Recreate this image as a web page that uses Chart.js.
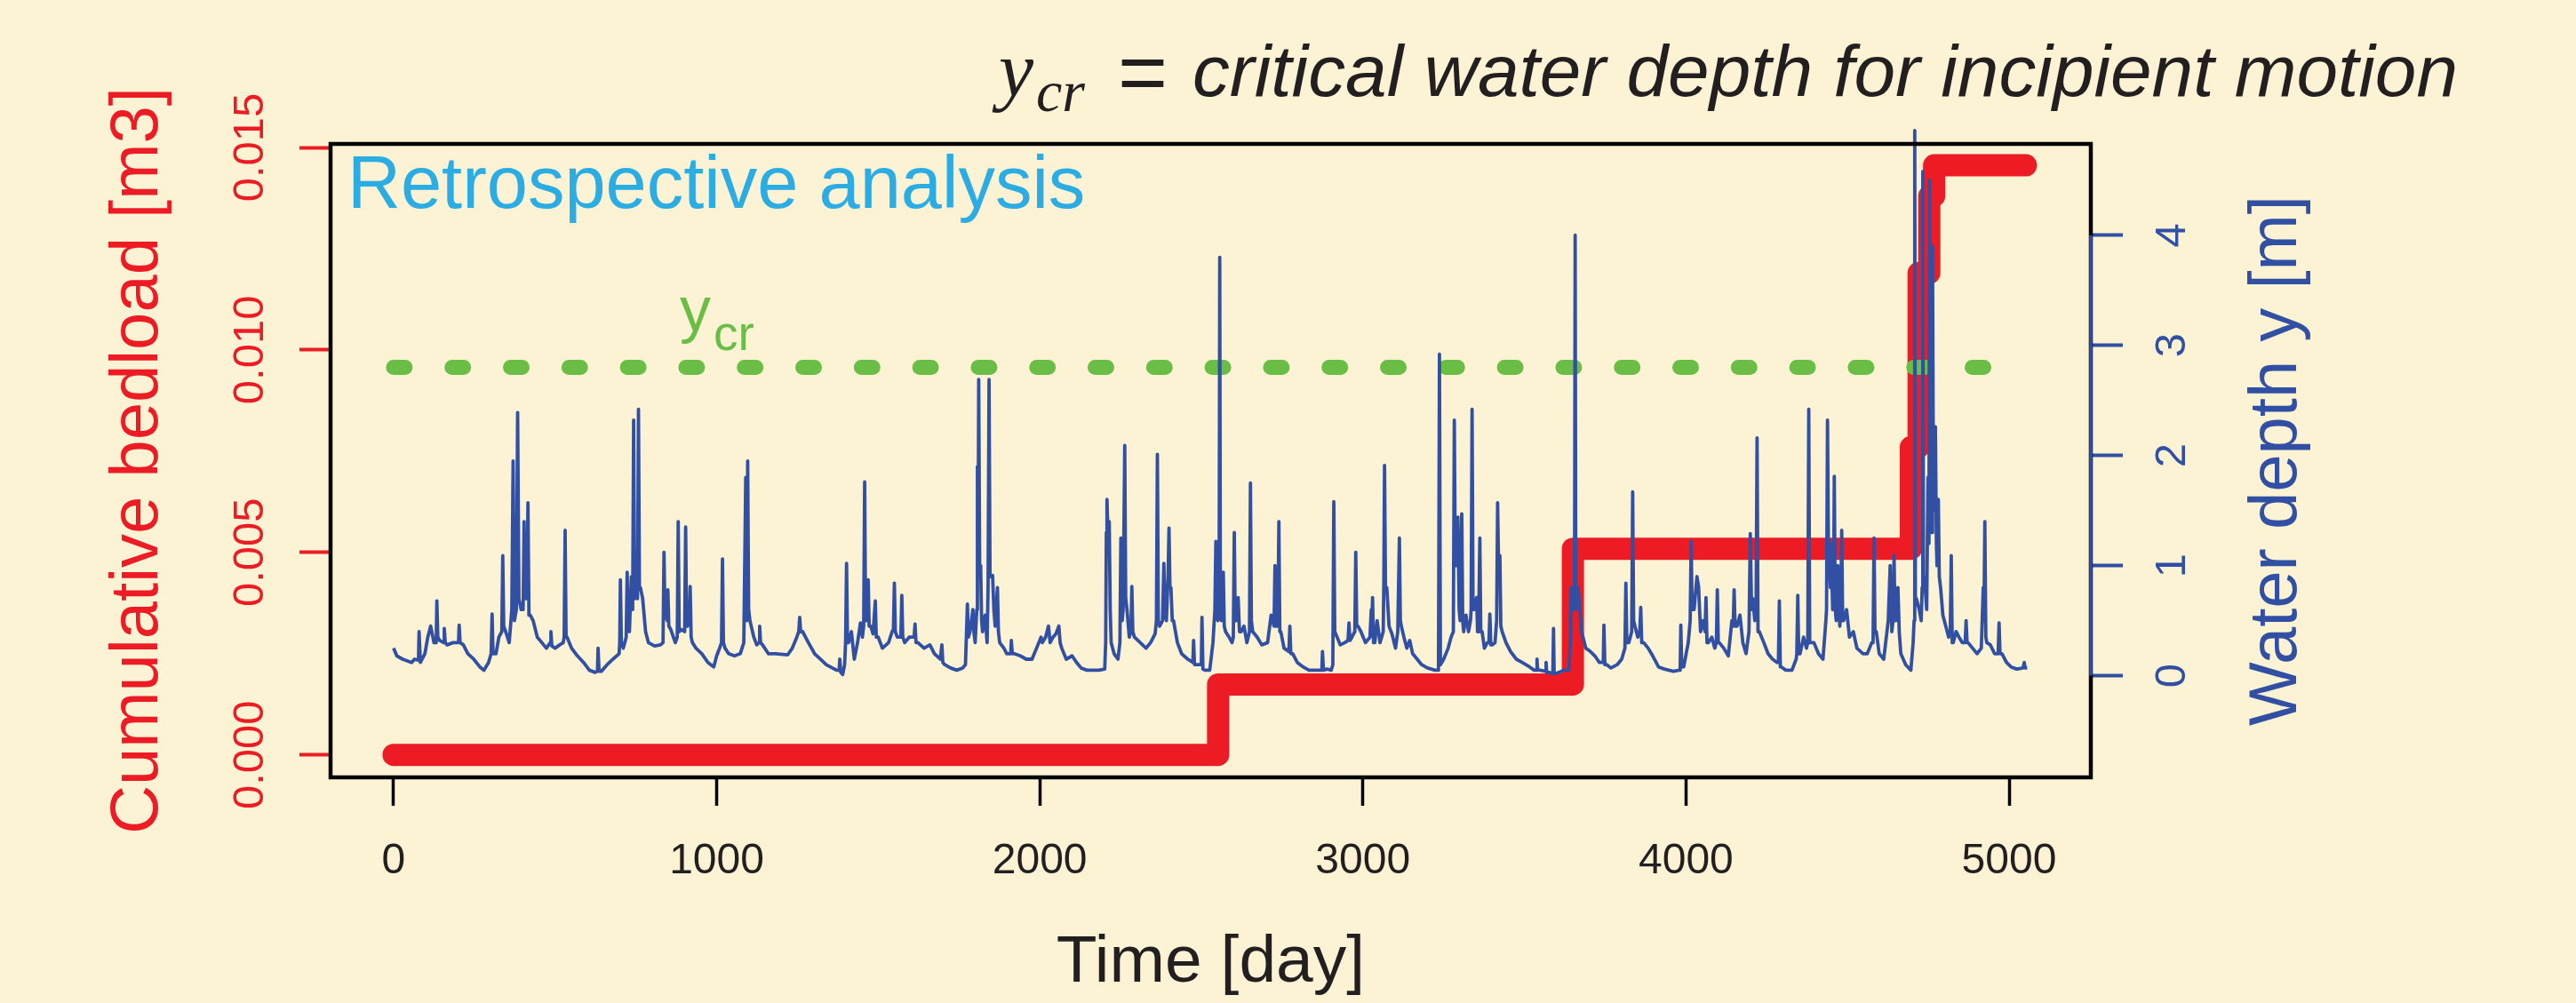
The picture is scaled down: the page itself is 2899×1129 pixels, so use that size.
<!DOCTYPE html>
<html>
<head>
<meta charset="utf-8">
<title>Retrospective analysis</title>
<script src="https://cdn.jsdelivr.net/npm/chart.js@4.4.1/dist/chart.umd.min.js"></script>
<style>
  html, body { margin: 0; padding: 0; background: #FCF3D5; }
  canvas { display: block; }
</style>
</head>
<body>
<canvas id="chart" width="2899" height="1129"></canvas>
<script>
// ---- data -------------------------------------------------------------
// Daily water depth [m] at the section: [day, depth]
const waterDepth = [
  [0,0.25],[10,0.18],[28,0.15],[56,0.12],[65,0.15],[77,0.14],[79,0.40],[83,0.12],[97,0.2],[106,0.35],
  [115,0.45],[125,0.3],[132,0.3],[134,0.68],[137,0.35],[143,0.32],[155,0.3],[157,0.43],[160,0.3],[166,0.28],
  [184,0.3],[201,0.3],[203,0.46],[206,0.3],[216,0.28],[230,0.2],[248,0.15],[267,0.08],[280,0.05],[294,0.12],
  [302,0.2],[305,0.56],[308,0.2],[317,0.2],[326,0.35],[335,0.4],[338,1.09],[341,0.45],[347,0.4],[358,0.3],
  [366,0.6],[370,1.95],[374,0.5],[380,0.6],[384,2.39],[388,0.7],[395,0.6],[401,0.6],[404,1.40],[407,0.7],
  [411,0.7],[413,0.8],[416,1.57],[419,0.55],[423,0.55],[432,0.5],[445,0.35],[459,0.3],[473,0.25],[485,0.3],
  [487,0.40],[490,0.27],[500,0.25],[514,0.28],[525,0.3],[528,0.35],[531,1.32],[534,0.35],[537,0.35],[551,0.25],
  [569,0.18],[588,0.12],[606,0.05],[624,0.03],[631,0.04],[633,0.25],[636,0.04],[643,0.04],[661,0.1],[679,0.15],
  [698,0.2],[700,0.3],[702,0.87],[705,0.3],[711,0.25],[720,0.35],[723,0.94],[726,0.45],[730,0.4],[736,0.9],
  [740,0.6],[743,2.32],[746,0.7],[749,0.8],[755,0.7],[758,2.42],[761,0.8],[764,0.8],[771,0.7],[780,0.4],
  [789,0.3],[808,0.27],[826,0.28],[834,0.3],[837,1.12],[840,0.55],[842,0.55],[847,0.5],[849,0.78],[852,0.45],
  [858,0.42],[872,0.3],[878,0.35],[881,1.40],[884,0.4],[890,0.42],[901,0.4],[904,1.35],[907,0.45],[910,0.45],
  [915,0.5],[918,0.81],[921,0.35],[925,0.3],[936,0.25],[954,0.2],[973,0.12],[991,0.08],
  [1000,0.18],[1009,0.25],[1015,0.3],[1018,1.06],[1021,0.3],[1026,0.25],[1037,0.2],[1055,0.18],[1073,0.2],[1084,0.3],
  [1090,1.8],[1093,0.5],[1096,1.95],[1099,0.6],[1103,0.5],[1115,0.35],[1124,0.28],[1131,0.3],[1133,0.45],[1136,0.3],
  [1142,0.28],[1160,0.2],[1183,0.2],[1220,0.19],[1234,0.25],[1248,0.35],[1254,0.4],[1257,0.53],[1260,0.4],[1266,0.4],
  [1284,0.3],[1303,0.2],[1321,0.15],[1339,0.1],[1358,0.07],[1371,0.05],[1379,0.05],[1381,0.15],[1384,0.03],[1390,0.01],
  [1396,0.1],[1399,0.3],[1402,1.02],[1405,0.3],[1408,0.3],[1417,0.4],[1426,0.15],[1436,0.3],[1445,0.48],[1451,0.35],
  [1455,0.45],[1458,1.76],[1461,0.5],[1465,0.5],[1469,0.87],[1472,0.45],[1477,0.45],[1484,0.38],[1491,0.68],[1494,0.35],
  [1500,0.35],[1513,0.25],[1532,0.3],[1543,0.4],[1547,0.42],[1550,0.84],[1553,0.4],[1559,0.35],[1570,0.35],[1573,0.73],
  [1576,0.35],[1582,0.3],[1596,0.35],[1611,0.35],[1614,0.47],[1617,0.3],[1623,0.3],[1642,0.25],[1660,0.28],[1674,0.2],
  [1692,0.15],[1697,0.28],[1700,0.12],[1706,0.1],[1724,0.07],[1743,0.05],[1761,0.07],[1770,0.1],[1776,0.65],[1779,0.35],
  [1784,0.4],[1793,0.6],[1796,0.4],[1800,0.3],[1805,0.6],[1807,1.9],[1809,0.9],[1811,2.69],[1814,1.0],[1817,1.0],
  [1820,0.5],[1823,0.4],[1831,0.55],[1837,0.3],[1840,0.8],[1843,2.69],[1846,0.9],[1849,0.9],[1854,0.91],[1858,0.6],
  [1862,0.45],[1869,0.8],[1872,0.4],[1876,0.3],[1889,0.25],[1898,0.2],[1910,0.2],[1912,0.32],[1915,0.2],[1921,0.2],
  [1940,0.18],[1958,0.15],[1976,0.15],[1990,0.25],
  [2004,0.35],[2008,0.3],[2018,0.35],[2027,0.45],[2032,0.3],[2041,0.35],[2050,0.38],[2059,0.45],[2063,0.3],[2068,0.25],
  [2082,0.15],[2100,0.18],[2114,0.12],[2128,0.07],[2146,0.05],[2183,0.05],[2201,0.06],[2204,0.3],[2206,1.3],[2208,1.6],
  [2212,1.2],[2215,1.4],[2218,0.6],[2221,0.3],[2230,0.2],[2242,0.15],[2248,0.3],[2251,1.25],[2255,0.5],[2258,0.6],
  [2263,2.09],[2266,0.7],[2270,0.6],[2277,0.35],[2282,0.4],[2285,0.81],[2288,0.4],[2293,0.35],[2311,0.3],[2329,0.25],
  [2343,0.3],[2357,0.38],[2361,0.5],[2364,2.01],[2367,0.5],[2371,0.45],[2380,0.5],[2384,1.02],[2388,0.55],[2392,0.5],
  [2397,0.9],[2400,1.34],[2403,0.8],[2406,0.8],[2410,0.5],[2414,0.5],[2426,0.3],[2439,0.2],[2458,0.15],[2474,0.12],
  [2476,0.32],[2479,0.1],[2485,0.1],[2500,0.1],[2502,0.53],[2505,0.06],[2511,0.05],[2526,0.05],[2536,0.3],[2542,0.6],
  [2545,1.22],[2548,0.6],[2551,0.5],[2555,0.6],[2557,3.80],[2559,0.6],[2562,0.5],[2565,0.6],[2568,0.94],[2571,0.45],
  [2575,0.4],[2586,0.35],[2595,0.3],[2599,0.35],[2602,1.30],[2605,0.5],[2608,0.5],[2614,0.71],[2618,0.4],[2623,0.4],
  [2632,0.45],[2641,0.3],[2649,0.4],[2652,1.75],[2655,0.5],[2659,0.4],[2673,0.35],[2687,0.28],[2705,0.3],[2716,0.55],
  [2725,0.45],[2728,1.0],[2731,0.45],[2734,0.45],[2737,0.5],[2740,1.40],[2743,0.4],[2746,0.4],[2756,0.25],[2771,0.22],
  [2774,0.45],[2777,0.2],[2783,0.2],[2797,0.12],[2815,0.08],[2833,0.05],[2852,0.05],[2873,0.05],[2875,0.22],[2878,0.05],
  [2889,0.06],[2902,0.05],[2907,0.1],[2910,1.58],[2913,0.4],[2916,0.38],[2930,0.28],[2944,0.3],[2954,0.32],[2957,0.48],
  [2960,0.32],[2966,0.35],[2975,0.4],[2978,1.12],[2981,0.45],[2985,0.45],[2994,0.4],[3008,0.3],[3022,0.35],[3026,0.6],
  [3028,0.45],[3030,0.71],[3033,0.3],[3037,0.3],[3044,0.5],[3053,0.3],[3063,0.4],[3065,0.9],[3067,1.91],[3070,0.8],
  [3074,0.8],[3081,0.45],[3090,0.38],[3101,0.25],[3108,0.4],[3113,1.25],[3116,0.5],[3119,0.45],[3127,0.35],[3136,0.25],
  [3145,0.32],[3154,0.2],[3168,0.15],[3182,0.1],[3200,0.07],[3223,0.05],[3234,0.05],[3237,2.92],[3240,0.1],[3250,0.15],
  [3264,0.25],[3273,0.35],[3280,0.4],[3283,2.32],[3286,1.0],[3289,1.0],[3294,1.44],[3298,0.6],[3301,0.5],[3306,1.47],
  [3309,0.5],[3312,0.4],[3319,0.55],[3327,0.4],[3333,0.5],[3335,0.6],[3338,2.42],[3341,0.6],[3344,0.6],[3352,0.71],
  [3355,0.4],[3358,0.4],[3362,1.25],[3365,0.4],[3369,0.4],[3376,0.25],[3385,0.3],[3390,0.3],[3393,0.56],[3396,0.28],
  [3400,0.28],[3409,0.3],[3414,0.5],[3417,1.57],[3420,1.0],[3424,1.09],[3427,0.45],[3431,0.4],[3443,0.3],[3457,0.22],
  [3475,0.15],[3493,0.12],[3516,0.08],[3530,0.05],[3537,0.05],[3539,0.15],[3541,0.05],[3548,0.05],[3565,0.04],[3567,0.12],
  [3569,0.03],[3576,0.03],[3588,0.02],[3590,0.43],[3592,0.02],[3599,0.02],[3622,0.05],[3638,0.05],[3642,0.3],[3645,0.8],
  [3648,0.6],[3651,0.6],[3655,0.7],[3657,4.00],[3659,0.7],[3662,0.6],[3666,0.8],[3669,0.7],[3677,0.4],[3690,0.25],
  [3704,0.22],[3718,0.18],[3732,0.12],[3744,0.12],[3746,0.46],[3749,0.1],[3755,0.1],[3768,0.07],[3787,0.1],[3801,0.15],
  [3811,0.25],[3814,0.84],[3817,0.3],[3823,0.3],[3832,0.4],[3835,1.67],[3838,0.5],[3842,0.45],[3851,0.35],[3857,0.4],
  [3860,0.62],[3863,0.3],[3869,0.3],[3883,0.25],[3897,0.18],[3915,0.08],[3933,0.06],[3961,0.04],[3979,0.05],[3982,0.05],
  [3984,0.46],[3987,0.08],[3993,0.08],[4007,0.3],[4013,0.5],[4016,1.22],[4019,0.6],[4025,0.6],[4034,0.9],
  [4039,0.81],[4045,0.4],[4053,0.5],[4059,0.4],[4062,0.71],[4065,0.3],[4069,0.3],[4080,0.35],[4089,0.25],[4094,0.3],
  [4097,0.78],[4100,0.3],[4103,0.3],[4117,0.25],[4131,0.18],[4142,0.5],[4146,0.45],[4149,0.78],[4152,0.45],[4158,0.45],
  [4167,0.55],[4176,0.3],[4186,0.2],[4195,0.4],[4199,1.29],[4203,0.6],[4207,0.7],[4213,0.5],[4217,0.6],[4220,2.16],
  [4223,0.4],[4227,0.4],[4241,0.3],[4254,0.2],[4268,0.15],[4282,0.12],[4286,0.12],[4289,0.68],[4292,0.08],[4295,0.08],
  [4309,0.05],[4328,0.05],[4341,0.15],[4343,0.2],[4346,0.73],[4349,0.2],[4353,0.2],[4364,0.35],[4373,0.25],[4377,0.3],
  [4380,2.42],[4383,0.3],[4387,0.3],[4396,0.3],[4410,0.2],[4424,0.15],[4433,0.5],[4435,0.6],[4438,2.32],[4441,1.1],
  [4443,1.1],[4447,0.8],[4449,1.2],[4454,0.6],[4457,0.8],[4459,1.81],[4462,0.6],[4465,0.5],[4470,1.0],[4476,0.45],
  [4479,0.6],[4482,1.32],[4485,0.5],[4488,0.5],[4497,0.6],[4506,0.35],[4518,0.4],[4529,0.25],[4548,0.2],[4561,0.2],
  [4575,0.3],[4579,0.3],[4582,1.25],[4585,0.4],[4589,0.4],[4598,0.2],[4612,0.15],[4626,0.5],[4632,1.0],[4637,0.4],
  [4641,0.5],[4644,1.09],[4647,0.5],[4650,0.5],[4656,0.8],[4660,0.4],[4665,0.2],[4680,0.1],[4696,0.05],[4703,0.3],
  [4706,0.5],[4708,4.95],[4710,0.7],[4713,0.7],[4722,0.6],[4728,0.5],[4731,0.8],[4733,4.58],[4735,0.9],[4738,0.9],
  [4745,0.6],[4749,1.8],[4752,1.2],[4754,4.50],[4756,1.5],[4758,2.2],[4761,1.3],[4763,3.9],[4766,1.5],[4768,1.5],
  [4772,2.26],[4775,1.2],[4777,1.0],[4781,1.6],[4784,0.9],[4788,0.8],[4795,0.55],[4804,0.45],[4813,0.35],[4818,0.4],
  [4821,1.09],[4824,0.3],[4827,0.3],[4836,0.4],[4845,0.35],[4855,0.3],[4864,0.3],[4867,0.5],[4870,0.3],[4873,0.3],
  [4887,0.25],[4901,0.2],[4914,0.25],[4920,0.8],[4922,0.5],[4925,1.40],[4928,0.35],[4931,0.3],[4942,0.28],[4955,0.2],
  [4966,0.2],[4969,0.48],[4972,0.2],[4978,0.2],[4992,0.12],[5006,0.08],[5024,0.06],[5043,0.07],[5047,0.12],[5050,0.07],
  [5056,0.07]
];

// Cumulative bedload [m3]: days on which the total changes, and the new total
const bedloadDay = [0, 2552, 3650, 4696, 4720, 4753, 4768, 5052];
const bedloadM3  = [0, 0.00174, 0.00509, 0.0076, 0.0119, 0.0138, 0.01456, 0.01456];

// Critical water depth for incipient motion [m] and the days it is drawn over
const yCritical = 2.8;
const yCriticalDays = [0, 5000];

// Axis ticks
const timeTicks = [0, 1000, 2000, 3000, 4000, 5000];
const timeTickLabels = ['0', '1000', '2000', '3000', '4000', '5000'];
const bedloadTicks = [0, 0.005, 0.010, 0.015];
const bedloadTickLabels = ['0.000', '0.005', '0.010', '0.015'];
const depthTicks = [0, 1, 2, 3, 4];
const depthTickLabels = ['0', '1', '2', '3', '4'];

// ---- styling ----------------------------------------------------------
const RED = '#ED1C24';
const BLUE = '#3150A3';
const GREEN = '#6ABD45';
const CYAN = '#2BACE2';
const INK = '#231F20';
const SANS = '"Liberation Sans", Arial, sans-serif';
const SERIF = '"Liberation Serif", "Times New Roman", serif';

const TICK_FONT = 49;
function textWidth(str, font) {
  const c = document.createElement('canvas').getContext('2d');
  c.font = font;
  return c.measureText(str).width;
}
const widestBedload = Math.max(...bedloadTickLabels.map(s => textWidth(s, `${TICK_FONT}px ${SANS}`)));
const widestDepth = Math.max(...depthTickLabels.map(s => textWidth(s, `${TICK_FONT}px ${SANS}`)));

// Frame, labels and annotations drawn on top of the plot
const overlay = {
  id: 'overlay',
  afterDatasetsDraw(chart) {
    const { ctx, chartArea: a, scales } = chart;
    ctx.save();
    ctx.strokeStyle = '#000';
    ctx.lineWidth = 4.5;
    ctx.strokeRect(a.left, a.top, a.right - a.left, a.bottom - a.top);
    // right axis line covers the labelled depth range only
    ctx.strokeStyle = BLUE;
    ctx.lineWidth = 3.5;
    ctx.beginPath();
    ctx.moveTo(a.right, scales.y2.getPixelForValue(depthTicks[0]));
    ctx.lineTo(a.right, scales.y2.getPixelForValue(depthTicks[depthTicks.length - 1]));
    ctx.stroke();
    ctx.restore();
  },
  afterDraw(chart) {
    const { ctx, chartArea: a } = chart;
    ctx.save();
    ctx.textBaseline = 'alphabetic';
    ctx.textAlign = 'left';

    // headline: y_cr = critical water depth for incipient motion
    ctx.fillStyle = INK;
    ctx.font = `italic 88px ${SERIF}`;
    ctx.fillText('y', 1124, 108);
    ctx.font = `italic 66px ${SERIF}`;
    ctx.fillText('cr', 1166, 125);
    ctx.font = `96px ${SANS}`;
    ctx.fillText('=', 1258, 114);
    ctx.font = `italic 82px ${SANS}`;
    const head = 'critical water depth for incipient motion';
    const hw = ctx.measureText(head).width;
    ctx.save();
    ctx.translate(1342, 108);
    ctx.scale(1424 / hw, 1);
    ctx.fillText(head, 0, 0);
    ctx.restore();

    // panel label
    ctx.fillStyle = CYAN;
    ctx.font = `83px ${SANS}`;
    ctx.fillText('Retrospective analysis', a.left + 19, a.top + 72);

    // label of the critical depth line
    ctx.fillStyle = GREEN;
    ctx.font = `70px ${SANS}`;
    ctx.fillText('y', 765, 372);
    ctx.font = `55px ${SANS}`;
    ctx.fillText('cr', 803, 394);

    // right axis title, reading upwards
    ctx.fillStyle = BLUE;
    ctx.font = `76px ${SANS}`;
    ctx.textAlign = 'center';
    ctx.textBaseline = 'middle';
    ctx.translate(2563, (a.top + a.bottom) / 2);
    ctx.rotate(-Math.PI / 2);
    ctx.fillText('Water depth y [m]', 0, 0);
    ctx.restore();
  }
};

new Chart(document.getElementById('chart'), {
  type: 'line',
  data: {
    datasets: [
      {
        label: 'Water depth',
        data: waterDepth.map(([d, v]) => ({ x: d, y: v })),
        yAxisID: 'y2',
        borderColor: BLUE,
        borderWidth: 3.8,
        borderJoinStyle: 'round',
        pointRadius: 0,
        tension: 0,
        clip: { left: 2, right: 2, top: 25, bottom: 2 },
        order: 1
      },
      {
        label: 'y_cr',
        data: yCriticalDays.map(d => ({ x: d, y: yCritical })),
        yAxisID: 'y2',
        borderColor: GREEN,
        borderWidth: 17,
        borderDash: [13, 52.8],
        borderCapStyle: 'round',
        pointRadius: 0,
        order: 2
      },
      {
        label: 'Cumulative bedload',
        data: bedloadDay.map((d, i) => ({ x: d, y: bedloadM3[i] })),
        yAxisID: 'y',
        borderColor: RED,
        borderWidth: 25,
        borderCapStyle: 'round',
        borderJoinStyle: 'round',
        stepped: 'before',
        pointRadius: 0,
        order: 3
      }
    ]
  },
  options: {
    responsive: false,
    devicePixelRatio: 1,
    animation: false,
    events: [],
    layout: { padding: { top: 162, left: 0, right: 0, bottom: 0 } },
    plugins: { legend: { display: false }, tooltip: { enabled: false } },
    scales: {
      x: {
        type: 'linear',
        position: 'bottom',
        min: -195,
        max: 5253,
        afterBuildTicks: s => { s.ticks = timeTicks.map(v => ({ value: v })); },
        afterFit: s => { s.height = 254; },
        ticks: {
          autoSkip: false,
          maxRotation: 0,
          color: INK,
          font: { family: SANS, size: 48 },
          padding: 34,
          callback: (v, i) => timeTickLabels[i]
        },
        grid: { display: true, drawOnChartArea: false, drawTicks: true, tickLength: 32, tickColor: '#000', tickWidth: 3.5 },
        border: { display: false },
        title: {
          display: true,
          text: 'Time [day]',
          color: INK,
          font: { family: SANS, size: 75 },
          padding: { top: 0, bottom: 0 }
        }
      },
      y: {
        type: 'linear',
        position: 'left',
        min: -0.000555,
        max: 0.015088,
        afterBuildTicks: s => { s.ticks = bedloadTicks.map(v => ({ value: v })); },
        afterFit: s => { s.width = 372; },
        ticks: {
          autoSkip: false,
          minRotation: 90,
          maxRotation: 90,
          crossAlign: 'center',
          color: RED,
          font: { family: SANS, size: TICK_FONT },
          padding: 372 - 282 - 35 - widestBedload / 2,
          callback: (v, i) => bedloadTickLabels[i]
        },
        grid: { display: true, drawOnChartArea: false, drawTicks: true, tickLength: 35, tickColor: RED, tickWidth: 4 },
        border: { display: false },
        title: {
          display: true,
          text: 'Cumulative bedload [m3]',
          color: RED,
          font: { family: SANS, size: 76 },
          padding: { top: 110, bottom: 0 }
        }
      },
      y2: {
        type: 'linear',
        position: 'right',
        min: -0.923,
        max: 4.829,
        afterBuildTicks: s => { s.ticks = depthTicks.map(v => ({ value: v })); },
        afterFit: s => { s.width = 546; },
        ticks: {
          autoSkip: false,
          minRotation: 90,
          maxRotation: 90,
          crossAlign: 'center',
          color: BLUE,
          font: { family: SANS, size: TICK_FONT },
          padding: 2445 - 2353 - 36 - widestDepth / 2,
          callback: (v, i) => depthTickLabels[i]
        },
        grid: { display: true, drawOnChartArea: false, drawTicks: true, tickLength: 36, tickColor: BLUE, tickWidth: 4 },
        border: { display: false }
      }
    }
  },
  plugins: [overlay]
});
</script>
</body>
</html>
